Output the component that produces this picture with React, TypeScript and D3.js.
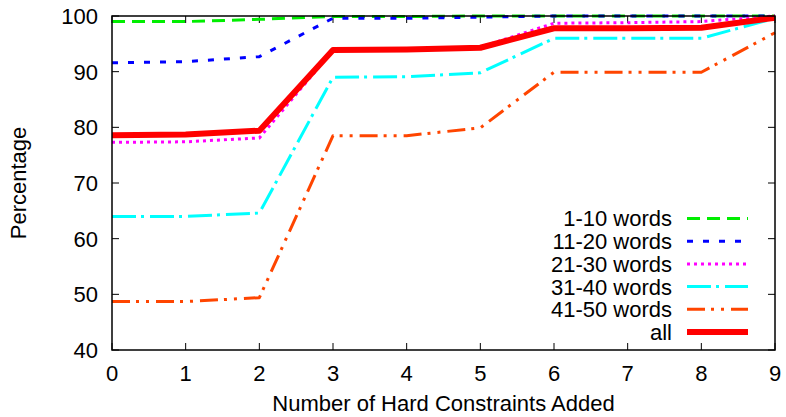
import React, { useEffect, useRef } from 'react';
import * as d3 from 'd3';

const steps = [0, 1, 2, 3, 4, 5, 6, 7, 8, 9];
const yTicks = [40, 50, 60, 70, 80, 90, 100];

const words1to10 = [99.0, 99.0, 99.4, 99.9, 99.9, 100, 100, 100, 100, 100];
const words11to20 = [91.6, 91.8, 92.7, 99.6, 99.6, 99.8, 100, 100, 100, 100];
const words21to30 = [77.3, 77.4, 78.1, 93.8, 93.9, 94.4, 98.7, 98.8, 99.0, 100];
const words31to40 = [64.0, 64.0, 64.6, 89.0, 89.1, 89.8, 96.0, 96.0, 96.0, 99.6];
const words41to50 = [48.7, 48.7, 49.4, 78.5, 78.5, 79.9, 89.9, 89.9, 89.9, 97.0];
const allWords = [78.6, 78.7, 79.4, 93.9, 94.0, 94.3, 97.8, 97.8, 97.9, 99.7];

const seriesNames = ['1-10 words', '11-20 words', '21-30 words', '31-40 words', '41-50 words', 'all'];

const App = () => {
  const svgRef = useRef(null);
  const svgWidth = 786;
  const svgHeight = 417;
  const margin = { top: 16, right: 11, bottom: 67, left: 112 };
  const width = svgWidth - margin.left - margin.right;
  const height = svgHeight - margin.top - margin.bottom;

  useEffect(() => {
    const svg = d3.select(svgRef.current);
    svg.selectAll('*').remove();

    const font = '"Liberation Sans", Arial, sans-serif';

    const series = [
      { name: seriesNames[0], values: words1to10, color: '#00ee00', width: 3, dash: '13,7' },
      { name: seriesNames[1], values: words11to20, color: '#0000ff', width: 3, dash: '6,10' },
      { name: seriesNames[2], values: words21to30, color: '#ff00ff', width: 3, dash: '3,4' },
      { name: seriesNames[3], values: words31to40, color: '#00ffff', width: 3, dash: '24,5,3,6' },
      { name: seriesNames[4], values: words41to50, color: '#ff4500', width: 3, dash: '18,6,3,7,3,7' },
      { name: seriesNames[5], values: allWords, color: '#ff0000', width: 6, dash: null },
    ];

    const x = d3.scaleLinear().domain([0, 9]).range([0, width]);
    const y = d3.scaleLinear().domain([40, 100]).range([height, 0]);

    const g = svg.append('g')
      .attr('transform', `translate(${margin.left},${margin.top})`);

    // ticks on all four sides, pointing inward
    const tickLen = 7;
    steps.forEach(s => {
      g.append('line').attr('x1', x(s)).attr('x2', x(s)).attr('y1', height).attr('y2', height - tickLen)
        .attr('stroke', '#000').attr('stroke-width', 1);
      g.append('line').attr('x1', x(s)).attr('x2', x(s)).attr('y1', 0).attr('y2', tickLen)
        .attr('stroke', '#000').attr('stroke-width', 1);
      g.append('text').attr('x', x(s)).attr('y', height + 31)
        .attr('text-anchor', 'middle').attr('font-family', font).attr('font-size', 22)
        .text(s);
    });
    yTicks.forEach(t => {
      g.append('line').attr('x1', 0).attr('x2', tickLen).attr('y1', y(t)).attr('y2', y(t))
        .attr('stroke', '#000').attr('stroke-width', 1);
      g.append('line').attr('x1', width).attr('x2', width - tickLen).attr('y1', y(t)).attr('y2', y(t))
        .attr('stroke', '#000').attr('stroke-width', 1);
      g.append('text').attr('x', -14).attr('y', y(t)).attr('dy', '0.37em')
        .attr('text-anchor', 'end').attr('font-family', font).attr('font-size', 22)
        .text(t);
    });

    const line = d3.line()
      .x((d, i) => x(steps[i]))
      .y(d => y(d));

    series.forEach(s => {
      g.append('path')
        .datum(s.values)
        .attr('d', line)
        .attr('fill', 'none')
        .attr('stroke', s.color)
        .attr('stroke-width', s.width)
        .attr('stroke-dasharray', s.dash)
        .attr('stroke-linejoin', 'round');
    });

    // frame
    g.append('rect')
      .attr('width', width).attr('height', height)
      .attr('fill', 'none').attr('stroke', '#000').attr('stroke-width', 1.5);

    // legend
    const legend = svg.append('g').attr('transform', 'translate(672,218.5)');
    series.forEach((s, i) => {
      const row = legend.append('g').attr('transform', `translate(0,${i * 22.7})`);
      row.append('text').attr('x', 0).attr('dy', '0.36em')
        .attr('text-anchor', 'end').attr('font-family', font).attr('font-size', 22)
        .text(s.name);
      row.append('line').attr('x1', 15).attr('x2', 76)
        .attr('stroke', s.color).attr('stroke-width', s.width)
        .attr('stroke-dasharray', s.dash);
    });

    // axis titles
    svg.append('text')
      .attr('x', margin.left + width / 2).attr('y', 411)
      .attr('text-anchor', 'middle').attr('font-family', font).attr('font-size', 22)
      .text('Number of Hard Constraints Added');
    svg.append('text')
      .attr('transform', `translate(26,${margin.top + height / 2}) rotate(-90)`)
      .attr('text-anchor', 'middle').attr('font-family', font).attr('font-size', 22)
      .text('Percentage');
  }, [height, margin.left, margin.top, width]);

  return (
    <svg ref={svgRef} width={svgWidth} height={svgHeight}
      style={{ position: 'absolute', left: 0, top: 0, background: '#fff' }}></svg>
  );
};

export default App;
